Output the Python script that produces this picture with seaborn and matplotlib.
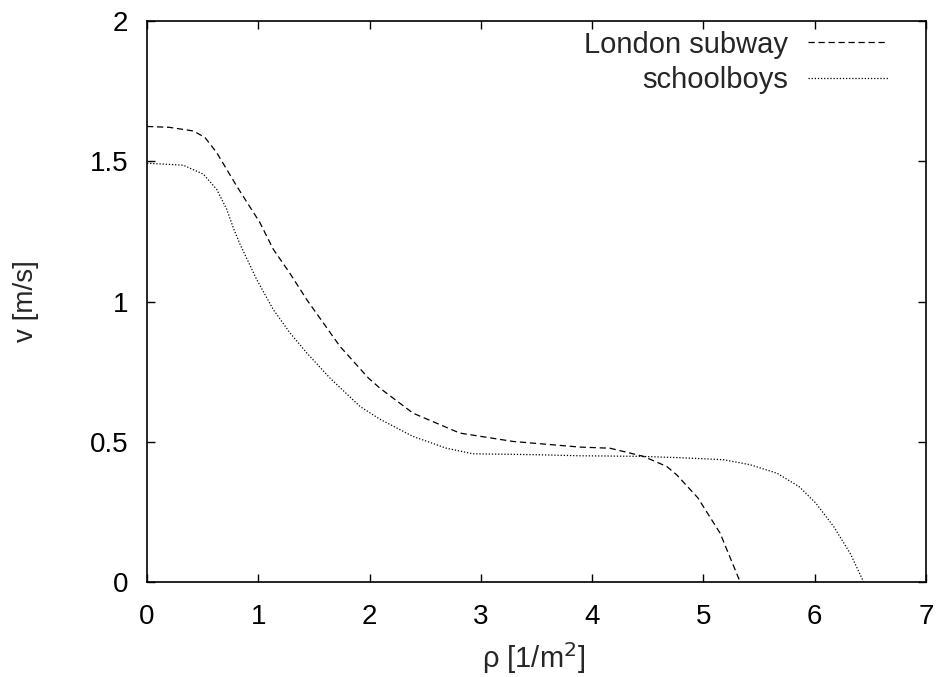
import matplotlib
matplotlib.use("Agg")
import matplotlib.pyplot as plt
import seaborn as sns
import pandas as pd

# ---- data ----
london_rho = [0.0, 0.2, 0.416, 0.52, 0.626, 0.805, 1.015, 1.135, 1.285, 1.435,
              1.734, 1.99, 2.09, 2.39, 2.81, 3.29, 3.62, 3.89, 4.16, 4.46,
              4.67, 4.76, 4.95, 5.15, 5.33]
london_v = [1.624, 1.621, 1.608, 1.585, 1.531, 1.412, 1.281, 1.186, 1.10, 1.007,
            0.84, 0.727, 0.692, 0.602, 0.531, 0.501, 0.49, 0.481, 0.477, 0.448,
            0.412, 0.382, 0.30, 0.174, 0.0]

school_rho = [0.0, 0.326, 0.506, 0.626, 0.716, 0.775, 0.836, 0.985, 1.135, 1.285,
              1.435, 1.644, 1.914, 2.09, 2.39, 2.69, 2.93, 3.47, 3.89, 4.43,
              4.8, 5.18, 5.42, 5.66, 5.86, 6.01, 6.17, 6.32, 6.44]
school_v = [1.493, 1.486, 1.454, 1.40, 1.329, 1.263, 1.204, 1.079, 0.971, 0.888,
            0.817, 0.727, 0.626, 0.581, 0.519, 0.477, 0.457, 0.454, 0.45, 0.448,
            0.443, 0.436, 0.418, 0.388, 0.34, 0.281, 0.198, 0.101, 0.0]

series_names = ["London subway", "schoolboys"]
x_ticks = [0, 1, 2, 3, 4, 5, 6, 7]
y_ticks = [0, 0.5, 1, 1.5, 2]
y_tick_labels = ["0", "0.5", "1", "1.5", "2"]

df_london = pd.DataFrame({"rho": london_rho, "v": london_v})
df_school = pd.DataFrame({"rho": school_rho, "v": school_v})

sns.set_style("ticks")
plt.rcParams["font.family"] = ["Liberation Sans", "DejaVu Sans"]

FS = 20

fig = plt.figure(figsize=(9.41, 6.77), dpi=100)
ax = fig.add_axes([147 / 941, 1 - 582 / 677, (926 - 147) / 941, (582 - 21) / 677])

sns.lineplot(data=df_london, x="rho", y="v", ax=ax, color="black", lw=0.9,
             linestyle=(0, (5, 3)), label=series_names[0], sort=False)
sns.lineplot(data=df_school, x="rho", y="v", ax=ax, color="black", lw=0.9,
             linestyle=(0, (1, 1.5)), label=series_names[1], sort=False)

ax.set_xlim(0, 7)
ax.set_ylim(0, 2)
ax.set_xticks(x_ticks)
ax.set_xticklabels([str(t) for t in x_ticks])
ax.set_yticks(y_ticks)
ax.set_yticklabels(y_tick_labels)
ax.tick_params(direction="in", length=6, width=1, top=True, right=True,
               labelsize=FS, colors="black")
ax.tick_params(axis="x", pad=16)
ax.tick_params(axis="y", pad=13.5)
for s in ax.spines.values():
    s.set_linewidth(1.2)
    s.set_color("black")

ax.set_xlabel(r"ρ [1/m$^2$]", fontsize=21)
ax.set_ylabel("v [m/s]", fontsize=FS)
ax.xaxis.set_label_coords(0.497, -0.104)
ax.yaxis.set_label_coords(-0.138, 0.5)

leg = ax.legend(loc="upper right", frameon=False, markerfirst=False,
                fontsize=21, handlelength=2.74, handletextpad=0.68,
                labelspacing=0.25, borderaxespad=0.2,
                bbox_to_anchor=(0.974, 1.014))
for t in leg.get_texts():
    t.set_ha("right")
leg._legend_box.align = "right"

fig.savefig("out.png", dpi=100)
